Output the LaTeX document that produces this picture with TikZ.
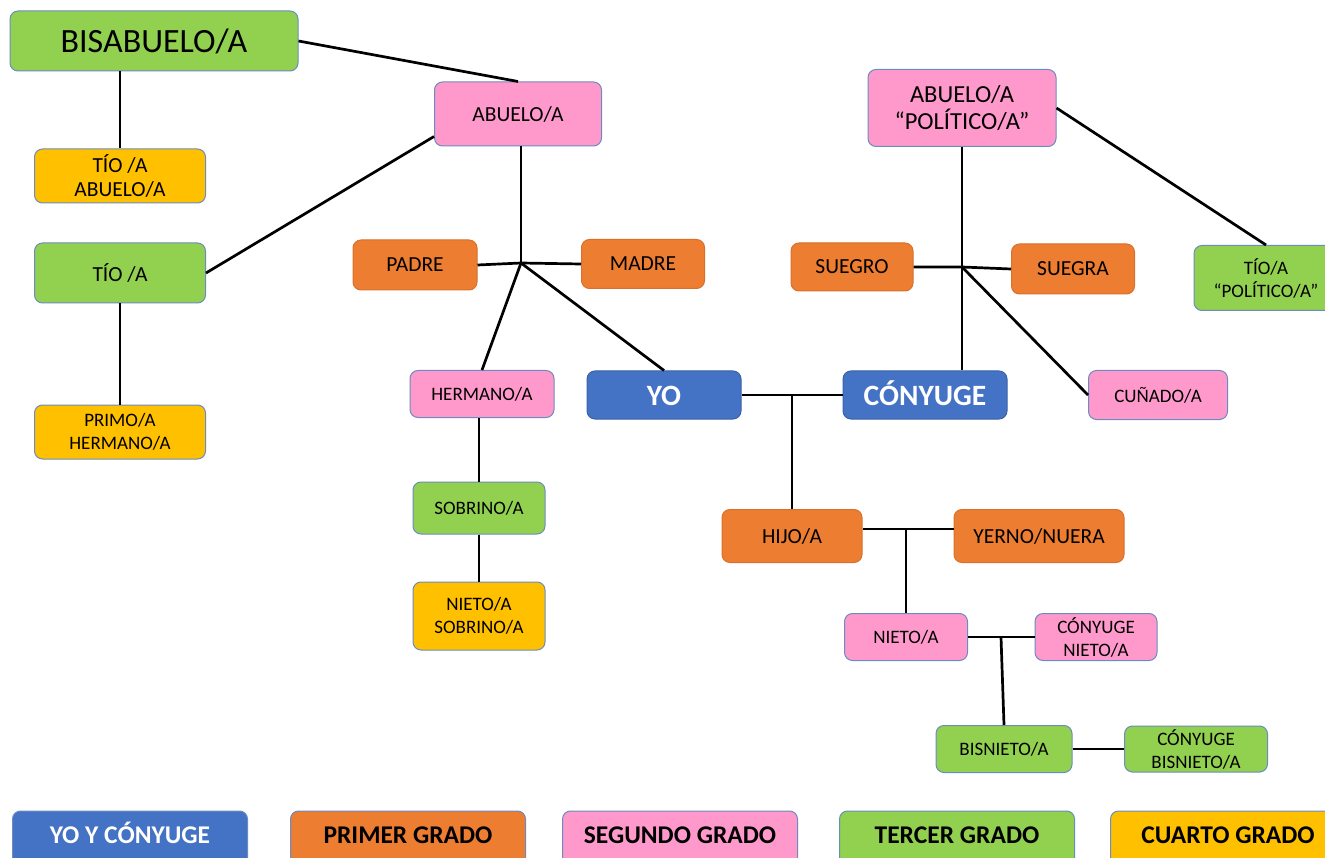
\documentclass[tikz,border=0pt]{standalone}
\usepackage{fontspec}
\setmainfont{Carlito}
\usetikzlibrary{positioning}
\definecolor{verde}{HTML}{92D050}
\definecolor{rosa}{HTML}{FF99CC}
\definecolor{naranja}{HTML}{ED7D31}
\definecolor{amarillo}{HTML}{FFC000}
\definecolor{azul}{HTML}{4472C4}
\definecolor{borde}{HTML}{6A8CBF}
\definecolor{bordenar}{HTML}{D9702B}
\definecolor{bordeazul}{HTML}{3A62A8}

\begin{document}
\begin{tikzpicture}[x=1pt,y=-1pt,
	caja/.style={draw=borde,line width=1pt,rounded corners=8pt,align=center,inner sep=2pt,font=\fontsize{19}{23}\selectfont},
	wh/.style 2 args={minimum width=#1,minimum height=#2},
	grande/.style={font=\fontsize{21.5}{24}\selectfont},
	g1/.style={caja,fill=naranja,draw=bordenar,grande},
	g2/.style={caja,fill=rosa},
	g3/.style={caja,fill=verde},
	g4/.style={caja,fill=amarillo},
	yo/.style={caja,fill=azul,draw=bordeazul,text=white,text height=21pt,text depth=0pt,font=\fontsize{29.5}{32}\bfseries\selectfont},
	ley/.style={caja,wh={235}{56},text height=18pt,text depth=10pt,font=\fontsize{25.5}{28}\bfseries\selectfont},
	lin/.style={line width=2.7pt}]
	\useasboundingbox (0,0) rectangle (1325,858);

            \node[g3,wh={288}{60},font=\fontsize{34}{38}\selectfont] (bisabuelo) at (154,41) {BISABUELO/A};
            \node[g2,grande,wh={167}{64}] (abuelo) at (518,114) {ABUELO/A};
            \node[g4,grande,wh={171}{54}] (tioabuelo) at (120,176) {TÍO /A\\ABUELO/A};
            \node[g3,grande,wh={171}{60}] (tio) at (120,273) {TÍO /A};
            \node[g4,wh={171}{54}] (primo) at (120,432) {PRIMO/A\\HERMANO/A};

            \node[g1,wh={124}{50}] (padre) at (415,265) {PADRE};
            \node[g1,wh={123}{49}] (madre) at (643,264) {MADRE};
            \coordinate (jpadres) at (521,263);
            \node[g2,wh={144}{47}] (hermano) at (482,394) {HERMANO/A};
            \node[yo,wh={154}{48}] (yo) at (664,395) {YO};
            \node[yo,wh={164}{48}] (conyuge) at (925,395) {CÓNYUGE};
            \node[g3,wh={132}{52}] (sobrino) at (479,508) {SOBRINO/A};
            \node[g4,wh={132}{68}] (nietosob) at (479,616) {NIETO/A\\SOBRINO/A};

            \node[g2,wh={188}{77},font=\fontsize{24.5}{27}\selectfont] (abuelopol) at (962,108) {ABUELO/A\\“POLÍTICO/A”};
            \node[g1,wh={122}{48}] (suegro) at (852,267) {SUEGRO};
            \node[g1,wh={123}{50}] (suegra) at (1073,269) {SUEGRA};
            \coordinate (jsuegros) at (962,267);
            \node[g3,wh={144}{65}] (tiopol) at (1266,278) {TÍO/A\\“POLÍTICO/A”};
            \node[g2,wh={139}{49}] (cunado) at (1158,395) {CUÑADO/A};

            \node[g1,wh={140}{53}] (hijo) at (792,536) {HIJO/A};
            \node[g1,wh={170}{53}] (yerno) at (1039,536) {YERNO/NUERA};
            \coordinate (jhijos) at (792,394);
            \coordinate (jnietos) at (906,529);
            \node[g2,wh={123}{47}] (nieto) at (906,637) {NIETO/A};
            \node[g2,wh={122}{47}] (cnieto) at (1096,637) {CÓNYUGE\\NIETO/A};
            \coordinate (jbisnietos) at (1001,637);
            \node[g3,wh={136}{47}] (bisnieto) at (1004,749) {BISNIETO/A};
            \node[g3,wh={143}{46}] (cbisnieto) at (1196,749) {CÓNYUGE\\BISNIETO/A};

            \draw[lin] (bisabuelo.east) -- (abuelo.north);
            \draw[lin] (bisabuelo.south -| tioabuelo.north) -- (tioabuelo.north);
            \draw[lin] (abuelo.195) -- (tio.east);
            \draw[lin] (tio.south) -- (primo.north);
            \draw[lin] (abuelo.south -| jpadres) -- (jpadres);
            \draw[lin] (padre.east) -- (jpadres) -- (madre.west);
            \draw[lin] (jpadres) -- (hermano.north);
            \draw[lin] (jpadres) -- (yo.north);
            \draw[lin] (hermano.south -| sobrino.north) -- (sobrino.north);
            \draw[lin] (sobrino.south) -- (nietosob.north);

            \draw[lin] (yo.east) -- (conyuge.west);
            \draw[lin] (jhijos) -- (hijo.north);
            \draw[lin] (abuelopol.south) -- (jsuegros) -- (conyuge.north -| jsuegros);
            \draw[lin] (suegro.east) -- (jsuegros) -- (suegra.west);
            \draw[lin] (jsuegros) -- (cunado.west);
            \draw[lin] (abuelopol.east) -- (tiopol.north);

            \draw[lin] ([yshift=7pt]hijo.east) -- ([yshift=7pt]yerno.west);
            \draw[lin] (jnietos) -- (nieto.north);
            \draw[lin] (nieto.east) -- (cnieto.west);
            \draw[lin] (jbisnietos) -- (bisnieto.north);
            \draw[lin] (bisnieto.east) -- (cbisnieto.west);

            % leyenda
            \foreach \x/\relleno/\tinta/\texto [count=\i] in {130/azul/white/YO Y CÓNYUGE,408/naranja/black/PRIMER GRADO,680/rosa/black/SEGUNDO GRADO,957/verde/black/TERCER GRADO,1228/amarillo/black/CUARTO GRADO}{
              \node[ley,fill=\relleno,text=\tinta] (ley\i) at (\x,839) {\texto};
            }
        \end{tikzpicture}
\end{document}
